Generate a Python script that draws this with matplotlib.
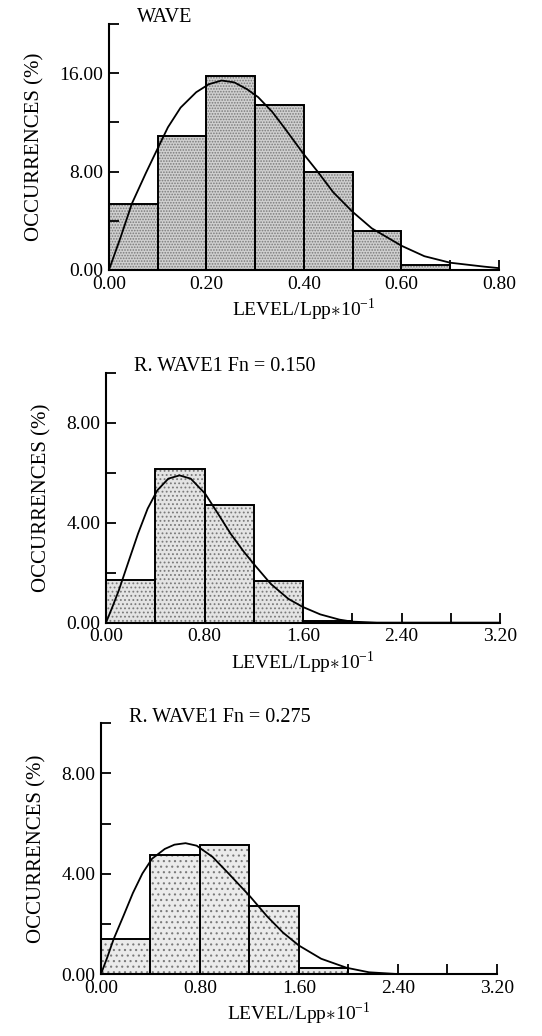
"""
Level-crossing histograms with fitted curves (three panels)
"""
import numpy as np
import matplotlib
matplotlib.use("Agg")
import matplotlib.pyplot as plt
from matplotlib.ticker import MultipleLocator, FormatStrFormatter

plt.rcParams['font.family'] = ['Liberation Serif', 'DejaVu Serif']
plt.rcParams['mathtext.fontset'] = 'custom'
plt.rcParams['mathtext.rm'] = 'Liberation Serif'
plt.rcParams['hatch.linewidth'] = 0.8

# panel 1: WAVE
wave_edges = [0.0, 0.1, 0.2, 0.3, 0.4, 0.5, 0.6, 0.7]
wave_pct = [5.35, 10.9, 15.75, 13.45, 7.95, 3.15, 0.4, 0.0]
wave_cx = [0.0, 0.0245, 0.047, 0.076, 0.102, 0.121, 0.147, 0.179, 0.205,
           0.231, 0.257, 0.283, 0.306, 0.335, 0.36, 0.40, 0.427, 0.46,
           0.50, 0.539, 0.60, 0.647, 0.70, 0.77, 0.80]
wave_cy = [0.0, 2.72, 5.39, 7.9, 10.05, 11.6, 13.2, 14.45, 15.1,
           15.4, 15.25, 14.7, 14.05, 12.85, 11.55, 9.39, 8.05, 6.32,
           4.72, 3.39, 1.97, 1.12, 0.59, 0.27, 0.15]

# panel 2: R. WAVE1 Fn = 0.150
rw1_edges = [0.0, 0.4, 0.8, 1.2, 1.6, 2.0, 2.4, 2.8]
rw1_pct = [1.72, 6.16, 4.72, 1.68, 0.08, 0.0, 0.0, 0.0]
rw1_cx = [0.0, 0.052, 0.104, 0.182, 0.26, 0.338, 0.416, 0.506, 0.597,
          0.688, 0.805, 0.909, 1.013, 1.117, 1.208, 1.338, 1.481, 1.597,
          1.74, 1.896, 2.0, 2.2, 3.2]
rw1_cy = [0.0, 0.63, 1.29, 2.43, 3.56, 4.56, 5.29, 5.76, 5.89,
          5.76, 5.16, 4.36, 3.55, 2.85, 2.3, 1.55, 0.95, 0.63,
          0.33, 0.12, 0.04, 0.0, 0.0]

# panel 3: R. WAVE1 Fn = 0.275
rw2_edges = [0.0, 0.4, 0.8, 1.2, 1.6, 2.0, 2.4, 2.8]
rw2_pct = [1.40, 4.74, 5.16, 2.72, 0.24, 0.0, 0.0, 0.0]
rw2_cx = [0.0, 0.052, 0.103, 0.181, 0.258, 0.335, 0.413, 0.516, 0.594,
          0.684, 0.774, 0.903, 1.032, 1.205, 1.342, 1.471, 1.60, 1.781,
          1.987, 2.168, 2.4, 3.2]
rw2_cy = [0.0, 0.68, 1.40, 2.31, 3.23, 4.01, 4.60, 4.99, 5.16,
          5.22, 5.12, 4.67, 4.01, 3.10, 2.31, 1.66, 1.14, 0.61,
          0.25, 0.07, 0.0, 0.0]

XLABEL = r"LEVEL/Lpp$\ast$10$^{-1}$"
YLABEL = "OCCURRENCES (%)"


def panel(fig, rect, edges, pct, cx, cy, title, xmax, xmaj, ymax, ymaj,
          hatch, face):
    ax = fig.add_axes(rect)
    width = edges[1] - edges[0]
    ax.bar(edges, pct, width=width, align='edge', color=face,
           hatch=hatch, edgecolor='#7a7a7a', linewidth=0, zorder=1)
    ax.bar(edges, pct, width=width, align='edge', fill=False,
           edgecolor='black', linewidth=1.4, zorder=2)
    ax.plot(cx, cy, color='black', linewidth=1.3, zorder=3)

    ax.set_xlim(0, xmax)
    ax.set_ylim(0, ymax)
    ax.xaxis.set_major_locator(MultipleLocator(xmaj))
    ax.xaxis.set_minor_locator(MultipleLocator(xmaj / 2))
    ax.yaxis.set_major_locator(MultipleLocator(ymaj))
    ax.yaxis.set_minor_locator(MultipleLocator(ymaj / 2))
    ax.xaxis.set_major_formatter(FormatStrFormatter('%.2f'))
    ax.yaxis.set_major_formatter(FormatStrFormatter('%.2f'))
    ax.tick_params(which='both', direction='in', length=7, width=1.3,
                   labelsize=14, pad=4)
    for s in ('top', 'right'):
        ax.spines[s].set_visible(False)
    for s in ('left', 'bottom'):
        ax.spines[s].set_linewidth(1.5)
        ax.spines[s].set_zorder(4)

    ax.text(0.072, 1.025, title, transform=ax.transAxes, fontsize=14.5,
            ha='left', va='center')
    ax.set_xlabel(XLABEL, fontsize=14, labelpad=3)
    ax.set_ylabel(YLABEL, fontsize=15, labelpad=11)
    return ax


fig = plt.figure(figsize=(5.42, 10.36), dpi=100)

panel(fig, [0.201, 0.7394, 0.7196, 0.2375], wave_edges, wave_pct,
      wave_cx, wave_cy, "WAVE", 0.8, 0.2, 20, 8, '......', '#d0d0d0')
panel(fig, [0.1956, 0.399, 0.727, 0.2413], rw1_edges, rw1_pct,
      rw1_cx, rw1_cy, "R. WAVE1 Fn = 0.150", 3.2, 0.8, 10, 4, '....', '#e4e4e4')
panel(fig, [0.1863, 0.0598, 0.730, 0.242], rw2_edges, rw2_pct,
      rw2_cx, rw2_cy, "R. WAVE1 Fn = 0.275", 3.2, 0.8, 10, 4, '...', '#ebebeb')

fig.savefig("out.png", dpi=100, facecolor='white')
